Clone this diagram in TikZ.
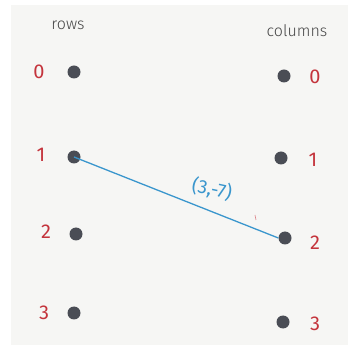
\documentclass[tikz,border=0pt]{standalone}
\usepackage{fontspec}
\setmainfont{Fira Sans Light}
\newfontfamily\numfont{Fira Sans}
\definecolor{paper}{RGB}{246,246,244}
\definecolor{dotc}{RGB}{74,77,85}
\definecolor{numred}{RGB}{196,52,60}
\definecolor{edgeblue}{RGB}{58,150,205}
\definecolor{inkgray}{RGB}{70,70,70}
\begin{document}
\begin{tikzpicture}[x=1pt,y=-1pt,
  vert/.style={circle,fill=dotc,inner sep=0pt,minimum size=13pt},
  num/.style={text=numred,font=\numfont\fontsize{20}{20}\selectfont,inner sep=0pt},
  head/.style={text=inkgray,font=\fontsize{16}{16}\selectfont,inner sep=0pt},
  edgelab/.style={text=edgeblue,font=\numfont\fontsize{19}{19}\selectfont,inner sep=0pt}]
\useasboundingbox (0,0) rectangle (348,347);
\fill[white] (0,0) rectangle (348,347);
\fill[paper] (11,5) rectangle (348,345);
\node[head] (rows) at (68,25) {rows};
\node[head] (cols) at (297,31) {columns};
\node[vert] (r0) at (74,72) {};
\node[vert] (r1) at (74,157) {};
\node[vert] (r2) at (76,234) {};
\node[vert] (r3) at (74,313) {};
\node[vert] (c0) at (284,76) {};
\node[vert] (c1) at (281,158) {};
\node[vert] (c2) at (285,238) {};
\node[vert] (c3) at (283,322) {};
\node[num] (lr0) at (39,72) {0};
\node[num] (lr1) at (41,155) {1};
\node[num] (lr2) at (46,232) {2};
\node[num] (lr3) at (44,313) {3};
\node[num] (lc0) at (315,77) {0};
\node[num] (lc1) at (313,160) {1};
\node[num] (lc2) at (315,243) {2};
\node[num] (lc3) at (315,324) {3};
\draw[edgeblue,line width=1.3pt] (r1.center) -- (c2.west);
\node[edgelab,rotate=-12] (w) at (212,189) {(3,-7)};
\coordinate (m1) at (255,215);
\coordinate (m2) at (256,220);
\draw[numred!60,line width=0.6pt] (m1) -- (m2);
\end{tikzpicture}
\end{document}
